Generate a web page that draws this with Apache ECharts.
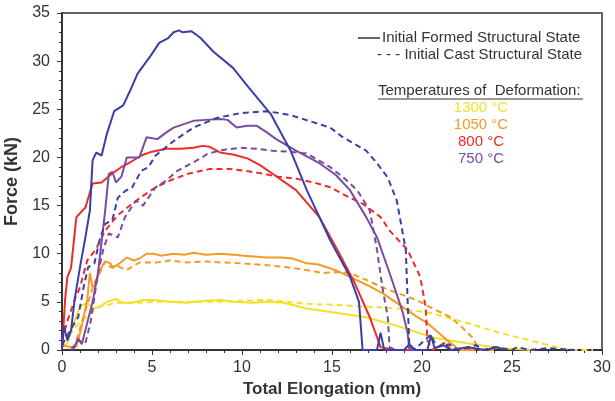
<!DOCTYPE html>
<html>
<head>
<meta charset="utf-8">
<script src="https://cdn.jsdelivr.net/npm/echarts@6/dist/echarts.min.js"></script>
<style>
  html, body { margin: 0; padding: 0; background: #fff; }
  #chart { width: 615px; height: 401px; }
</style>
</head>
<body>
<div id="chart"></div>
<script>
// tick labels
var xTicks = [0, 5, 10, 15, 20, 25, 30];
var yTicks = [0, 5, 10, 15, 20, 25, 30, 35];

var temperatures = ['1300 °C', '1050 °C', '800 °C', '750 °C'];

// [elongation mm, force kN]
var blueFormed = [[0,0],[0.1,2.5],[0.3,1.0],[0.5,2.0],[0.7,5.2],[1.0,8.6],[1.3,11.7],[1.55,14.5],[1.7,19.7],[1.9,20.5],[2.2,20.2],[2.5,22.5],[2.9,24.8],[3.4,25.4],[3.8,27.0],[4.2,28.7],[4.9,30.5],[5.4,31.9],[5.9,32.4],[6.2,33.0],[6.5,33.2],[6.7,33.0],[7.2,33.1],[7.7,32.4],[8.4,31.0],[9.5,29.3],[10.4,27.2],[11.6,24.5],[12.7,20.7],[13.6,16.6],[14.9,11.4],[16.0,7.6],[16.5,5.0],[16.7,0],[17.5,0],[17.7,1.8],[17.9,0],[19.0,0],[19.3,0.6],[19.6,0],[20.3,0],[20.5,1.5],[20.7,0.2],[21.2,0.5],[21.6,0],[22.5,0.3],[23.5,0],[24.2,0.3],[24.5,0]];
var blueCast = [[0,0.5],[0.3,1.5],[0.6,2.5],[0.9,3.4],[1.2,6.5],[1.45,8.6],[1.8,9.0],[2.1,11.5],[2.4,13.1],[2.8,13.5],[3.1,15.8],[3.5,16.5],[3.9,16.9],[4.4,18.6],[4.8,19.0],[5.2,20.2],[6.2,21.7],[7.3,23.1],[8.6,24.1],[9.9,24.6],[11.4,24.8],[12.7,24.4],[13.2,24.1],[14.9,23.1],[15.6,22.1],[16.9,20.7],[17.5,19.4],[18.1,17.9],[18.6,15.5],[19.1,10.4],[19.2,5.2],[19.3,0.3],[19.6,0.1],[20.5,1.6],[20.8,0.3],[21.5,0.6],[22.0,0],[23.0,0.5],[23.4,0],[24.0,0.3],[25.0,0],[25.3,0.3],[26.0,0],[27.0,0.2],[28.5,0]];
var redFormed = [[0,0],[0.1,3.0],[0.17,5.2],[0.3,7.6],[0.5,8.5],[0.8,13.8],[1.3,14.8],[1.7,17.3],[2.2,17.4],[2.7,18.2],[3.3,19.0],[3.8,19.5],[4.4,20.2],[5.0,20.6],[5.8,20.9],[6.6,20.9],[7.3,21.0],[7.8,21.2],[8.2,21.1],[8.5,20.8],[8.8,20.5],[9.5,20.3],[10.3,19.9],[11.0,19.2],[11.7,18.3],[13.0,16.6],[14.3,13.8],[15.3,10.4],[16.2,7.2],[17.1,3.4],[17.7,0.3],[18.5,0],[19.5,0]];
var redCast = [[0,1.0],[0.3,3.0],[0.7,5.2],[1.0,6.5],[1.4,9.3],[1.9,10.5],[2.4,12.4],[3.1,14.0],[3.9,15.2],[4.5,16.0],[5.2,16.9],[6.0,17.6],[7.0,18.3],[8.2,18.8],[9.3,18.8],[10.2,18.6],[11.2,18.3],[12.0,18.0],[13.0,17.8],[14.0,17.4],[14.9,16.9],[16.0,15.8],[16.7,15.2],[17.7,13.8],[18.2,12.4],[19.2,10.4],[19.9,7.6],[20.2,4.5],[20.3,1.0],[20.6,0],[21.3,0.8],[21.6,0],[22.5,0.2],[23.0,0]];
var purpleFormed = [[0.6,0],[0.9,1.2],[1.1,0.6],[1.4,2.8],[1.7,5.0],[2.0,8.0],[2.4,14.5],[2.6,18.3],[2.8,18.5],[3.0,17.4],[3.3,18.0],[3.6,20.0],[4.3,20.0],[4.7,22.1],[5.3,21.9],[5.8,22.6],[6.2,23.1],[7.3,23.8],[8.0,23.9],[8.8,24.0],[9.2,23.9],[9.7,23.1],[10.3,23.3],[10.8,23.3],[11.3,22.7],[11.9,21.9],[13.0,20.7],[14.3,19.4],[15.2,18.2],[16.0,16.6],[16.9,13.8],[17.5,11.7],[18.2,8.0],[18.9,4.1],[19.2,1.8],[19.3,0],[20.0,0]];
var purpleCast = [[0.5,0],[0.9,1.0],[1.3,0.7],[1.6,3.0],[2.0,8.0],[2.3,10.5],[2.6,12.1],[3.1,11.7],[3.5,13.8],[4.1,15.5],[4.5,15.0],[5.2,16.9],[5.8,17.6],[6.4,18.6],[7.0,19.2],[7.8,20.0],[8.1,20.4],[9.0,20.8],[9.9,21.0],[10.8,20.9],[11.7,20.7],[12.6,20.6],[13.6,20.4],[14.9,19.0],[15.7,17.8],[16.4,16.6],[17.1,14.5],[17.5,10.4],[17.8,6.5],[18.1,3.4],[18.2,0.3],[18.5,0]];
var orangeFormed = [[0,0.5],[0.5,0.3],[0.8,0.3],[1.1,2.5],[1.4,5.2],[1.55,8.0],[1.7,6.5],[1.9,7.0],[2.1,8.3],[2.4,9.2],[2.7,9.0],[2.8,8.5],[3.2,9.0],[3.6,9.6],[4.0,9.3],[4.3,9.5],[4.7,10.0],[5.1,10.0],[5.5,9.8],[6.2,10.0],[6.8,9.9],[7.3,10.1],[8.0,9.9],[8.8,10.0],[9.5,9.9],[10.1,9.8],[11.4,9.6],[12.2,9.6],[12.8,9.5],[13.6,9.0],[14.2,8.9],[14.7,8.6],[15.2,8.3],[16.0,7.6],[17.0,6.7],[17.8,5.9],[18.9,4.5],[19.6,3.6],[20.3,2.8],[21.4,1.0],[22.1,0],[23.0,0]];
var orangeCast = [[0.8,1.0],[1.2,3.5],[1.55,5.5],[1.8,7.0],[2.1,8.0],[2.4,9.2],[2.7,8.6],[3.0,8.8],[3.6,8.3],[4.3,9.1],[5.3,9.1],[6.0,9.3],[6.9,9.1],[8.0,9.2],[8.8,9.1],[10.0,9.0],[11.4,8.8],[12.5,8.6],[13.6,8.3],[14.5,8.0],[15.2,8.1],[16.0,8.0],[17.0,7.2],[17.8,6.5],[18.8,5.8],[19.7,5.2],[20.6,4.3],[21.6,3.4],[22.2,2.4],[22.8,1.3],[23.2,0],[24.0,0]];
var yellowFormed = [[0.1,0.5],[0.3,0.7],[0.6,2.5],[1.0,4.5],[1.4,4.9],[1.7,4.3],[2.1,4.5],[2.5,5.0],[3.0,5.3],[3.4,4.9],[3.9,4.9],[4.5,5.2],[5.1,5.2],[6.0,5.0],[6.9,4.9],[7.8,5.1],[8.8,5.2],[9.5,5.0],[10.6,4.9],[11.5,5.0],[12.3,4.9],[13.0,4.6],[13.6,4.3],[15.1,3.9],[16.9,3.4],[18.8,2.4],[20.6,1.3],[22.5,0.7],[24.3,0.2],[26.2,0]];
var yellowCast = [[0.4,1.5],[0.8,2.5],[1.2,3.2],[1.55,3.8],[2.1,4.5],[3.0,4.9],[4.0,4.9],[5.1,5.0],[7.0,5.0],[8.8,5.0],[10.0,5.1],[11.4,5.2],[12.5,5.0],[13.6,4.8],[15.0,4.7],[16.9,4.5],[18.8,4.3],[20.6,3.8],[22.5,2.8],[24.3,1.8],[26.2,0.9],[27.7,0.2],[28.4,0],[29.5,0]];

var BLUE = '#3a3fa6', PURPLE = '#7a4c9e', RED = '#ee2a2a', ORANGE = '#f49a28', YELLOW = '#f2e12a';

function curve(data, color, dashed) {
  return {
    type: 'line',
    data: data,
    showSymbol: false,
    silent: true,
    lineStyle: { color: color, width: 2, type: dashed ? [6, 4] : 'solid' }
  };
}

var legendFont = '15px "Liberation Sans"';

var chart = echarts.init(document.getElementById('chart'));
chart.setOption({
  animation: false,
  grid: { left: 62, right: 13, top: 13, bottom: 51, outerBoundsMode: 'none', show: true, borderColor: '#333', borderWidth: 1.5 },
  xAxis: {
    type: 'value', min: xTicks[0], max: xTicks[xTicks.length - 1], interval: 5,
    name: 'Total Elongation (mm)', nameLocation: 'middle', nameGap: 24,
    nameTextStyle: { fontFamily: 'Liberation Sans', fontWeight: 'bold', fontSize: 17, color: '#333' },
    axisLine: { lineStyle: { color: '#333', width: 2 } },
    axisTick: { show: true, length: 5, lineStyle: { color: '#333' } },
    minorTick: { show: true, splitNumber: 5, length: 3, lineStyle: { color: '#333' } },
    splitLine: { show: false },
    axisLabel: { fontFamily: 'Liberation Sans', fontSize: 16, color: '#333', margin: 10 }
  },
  yAxis: {
    type: 'value', min: yTicks[0], max: yTicks[yTicks.length - 1], interval: 5,
    name: 'Force (kN)', nameLocation: 'middle', nameGap: 36,
    nameTextStyle: { fontFamily: 'Liberation Sans', fontWeight: 'bold', fontSize: 18, color: '#333' },
    axisLine: { show: true, lineStyle: { color: '#333', width: 2 } },
    axisTick: { show: true, length: 5, lineStyle: { color: '#333' } },
    minorTick: { show: true, splitNumber: 5, length: 3, lineStyle: { color: '#333' } },
    splitLine: { show: false },
    axisLabel: { fontFamily: 'Liberation Sans', fontSize: 16, color: '#333', margin: 12 }
  },
  graphic: [
    { type: 'line', shape: { x1: 358, y1: 38, x2: 380, y2: 38 }, style: { stroke: '#333', lineWidth: 1.5 } },
    { type: 'text', x: 382, y: 38, style: { text: 'Initial Formed Structural State', font: legendFont, fill: '#333', verticalAlign: 'middle' } },
    { type: 'text', x: 582, y: 55, style: { text: '- - - Initial Cast Structural State', font: legendFont, fill: '#333', align: 'right', verticalAlign: 'middle' } },
    { type: 'text', x: 378, y: 91, style: { text: 'Temperatures of  Deformation:', font: legendFont, fill: '#333', verticalAlign: 'middle' } },
    { type: 'line', shape: { x1: 378, y1: 99, x2: 583, y2: 99 }, style: { stroke: '#333', lineWidth: 1 } },
    { type: 'text', x: 481, y: 108, style: { text: temperatures[0], font: legendFont, fill: YELLOW, align: 'center', verticalAlign: 'middle' } },
    { type: 'text', x: 481, y: 125, style: { text: temperatures[1], font: legendFont, fill: ORANGE, align: 'center', verticalAlign: 'middle' } },
    { type: 'text', x: 481, y: 142, style: { text: temperatures[2], font: legendFont, fill: RED, align: 'center', verticalAlign: 'middle' } },
    { type: 'text', x: 481, y: 159, style: { text: temperatures[3], font: legendFont, fill: PURPLE, align: 'center', verticalAlign: 'middle' } }
  ],
  series: [
    curve(yellowCast, YELLOW, true),
    curve(yellowFormed, YELLOW, false),
    curve(orangeCast, ORANGE, true),
    curve(orangeFormed, ORANGE, false),
    curve(redCast, RED, true),
    curve(redFormed, RED, false),
    curve(purpleCast, PURPLE, true),
    curve(purpleFormed, PURPLE, false),
    curve(blueCast, BLUE, true),
    curve(blueFormed, BLUE, false)
  ]
});
</script>
</body>
</html>
